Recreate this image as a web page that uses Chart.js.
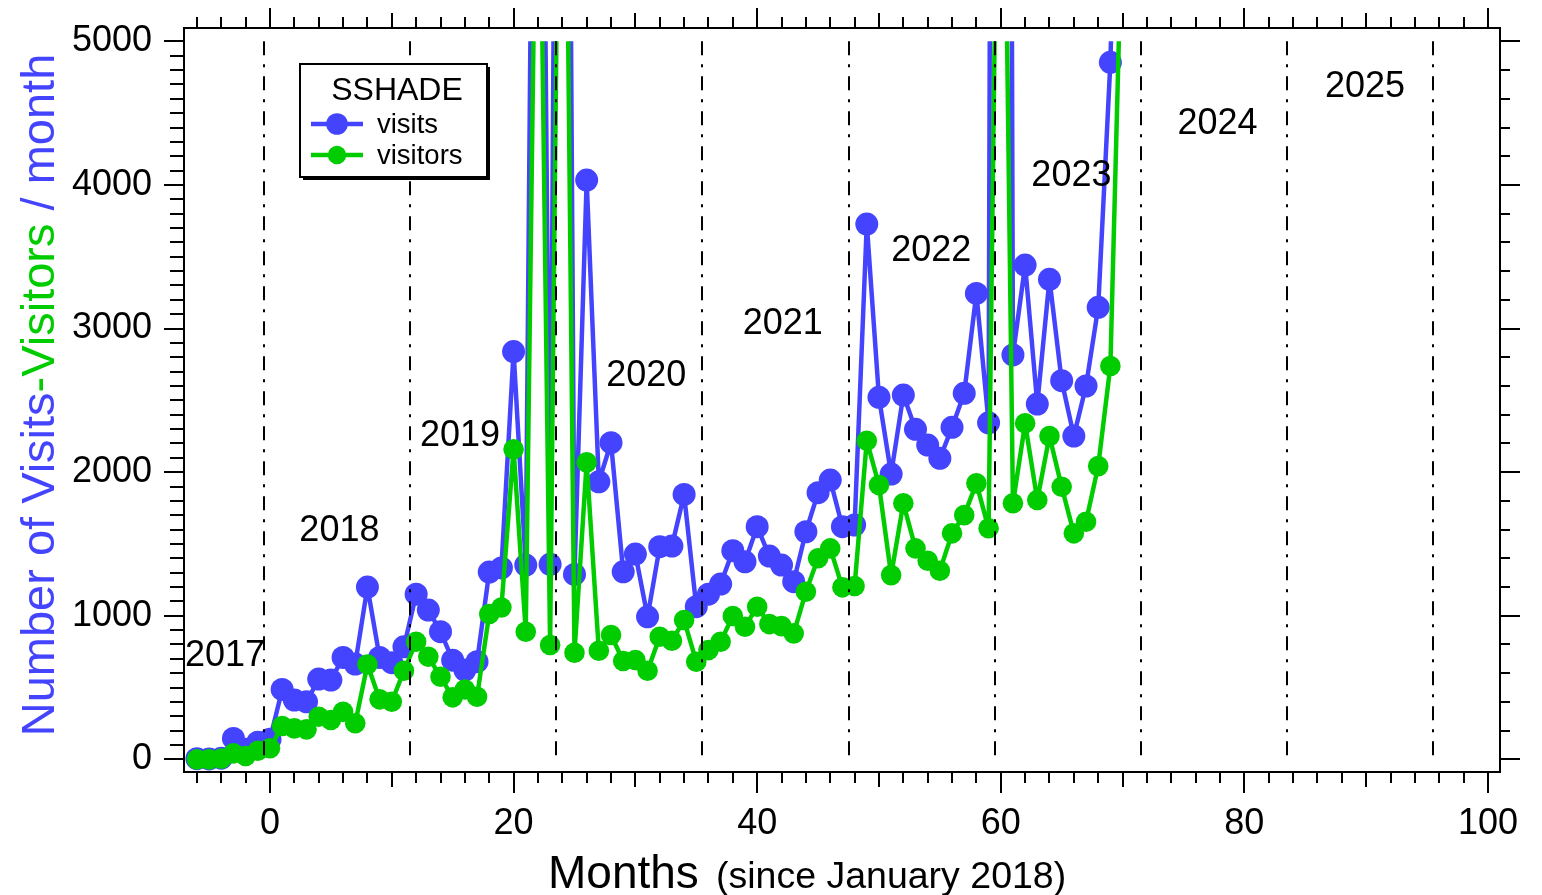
<!DOCTYPE html>
<html>
<head>
<meta charset="utf-8">
<script src="https://cdn.jsdelivr.net/npm/chart.js@4.4.1/dist/chart.umd.min.js"></script>
<style>
  html, body { margin: 0; padding: 0; background: #ffffff; }
  canvas { display: block; }
</style>
</head>
<body>
<canvas id="chart" width="1542" height="895"></canvas>
<script>
// Months counted from January 2018 (month 0)
const months = [
  -6, -5, -4, -3, -2, -1, 0, 1, 2, 3, 4, 5, 6, 7, 8, 9, 10, 11, 12, 13,
  14, 15, 16, 17, 18, 19, 20, 21, 22, 23, 24, 25, 26, 27, 28, 29, 30, 31, 32, 33,
  34, 35, 36, 37, 38, 39, 40, 41, 42, 43, 44, 45, 46, 47, 48, 49, 50, 51, 52, 53,
  54, 55, 56, 57, 58, 59, 60, 61, 62, 63, 64, 65, 66, 67, 68, 69, 70
];

// Monthly visits
const visits = [
  5, 3, 8, 146, 70, 120, 140, 487, 413, 401, 559, 552, 710, 664, 1200, 710, 673, 784, 1150, 1040,
  889, 691, 622, 680, 1304, 1333, 2840, 1353, 11000, 1358, 14500, 1288, 4034, 1933, 2205, 1306, 1430, 993, 1481, 1485,
  1845, 1063, 1150, 1221, 1453, 1376, 1620, 1416, 1353, 1237, 1585, 1857, 1945, 1620, 1632, 3728, 2521, 1987, 2537, 2298,
  2189, 2096, 2312, 2549, 3245, 2344, 30000, 2816, 3442, 2474, 3343, 2637, 2251, 2600, 3148, 4854, 8000
];

// Monthly distinct visitors
const visitors = [
  0, 0, 5, 42, 23, 60, 77, 232, 216, 209, 297, 274, 331, 251, 661, 418, 401, 617, 819, 715,
  575, 432, 487, 436, 1012, 1058, 2159, 889, 7400, 796, 9000, 742, 2068, 756, 866, 685, 692, 617, 854, 826,
  970, 680, 761, 819, 998, 924, 1063, 942, 928, 877, 1167, 1400, 1469, 1198, 1207, 2219, 1910, 1283, 1783, 1469,
  1383, 1313, 1574, 1701, 1922, 1609, 8500, 1783, 2340, 1806, 2251, 1898, 1574, 1655, 2042, 2739, 6000
];

// Axis tick labels
const xTickValues = [0, 20, 40, 60, 80, 100];
const yTickValues = [0, 1000, 2000, 3000, 4000, 5000];

// Calendar years and the month at which each one starts
const yearNames  = ['2017', '2018', '2019', '2020', '2021', '2022', '2023', '2024', '2025'];
const yearStarts = [-0.5, 11.5, 23.5, 35.5, 47.5, 59.5, 71.5, 83.5, 95.5];

// Where each year name is written (data coordinates: month, count)
const yearLabelAnchors = [
  { x: -3.7, y: 650 }, { x: 5.7, y: 1519 }, { x: 15.6, y: 2181 }, { x: 30.9, y: 2600 },
  { x: 42.1, y: 2962 }, { x: 54.3, y: 3470 }, { x: 65.8, y: 3992 }, { x: 77.8, y: 4355 },
  { x: 89.9, y: 4613 }
];

const BLUE = 'rgb(68,68,255)';
const GREEN = 'rgb(0,204,0)';
const FONT = '"Liberation Sans", Arial, Helvetica, sans-serif';
const Y_CLIP_TOP = 5000;

const toPoints = (xs, ys) => xs.map((x, i) => ({ x: x, y: ys[i] }));

// Keep the plot area fixed: no extra room for overhanging tick labels
const noOverhang = s => {
  s.paddingTop = 0; s.paddingBottom = 0; s.paddingLeft = 0; s.paddingRight = 0;
};

// Clip the traces at the top of the value range
const clipTop = {
  id: 'clipTop',
  beforeDatasetsDraw(chart) {
    const ctx = chart.ctx;
    const y = chart.scales.y;
    ctx.save();
    ctx.beginPath();
    ctx.rect(0, y.getPixelForValue(Y_CLIP_TOP), chart.width, chart.height);
    ctx.clip();
  },
  afterDatasetsDraw(chart) {
    chart.ctx.restore();
  }
};

// Frame, tick marks, year separators, annotations, titles and legend
const decorations = {
  id: 'decorations',
  afterDraw(chart) {
    const ctx = chart.ctx;
    const a = chart.chartArea;
    const xs = chart.scales.x;
    const ys = chart.scales.y;

    ctx.save();
    ctx.strokeStyle = '#000';
    ctx.lineWidth = 2;
    ctx.lineCap = 'butt';

    // frame
    ctx.strokeRect(a.left, a.top, a.right - a.left, a.bottom - a.top);

    // top / bottom tick marks
    ctx.beginPath();
    for (let m = -6; m <= 100; m += 2) {
      const px = Math.round(xs.getPixelForValue(m));
      const major = m % 20 === 0, mid = m % 10 === 0;
      const lb = major ? 21 : (mid ? 15 : 11);
      const lt = major ? 20 : (mid ? 15 : 11);
      ctx.moveTo(px, a.bottom); ctx.lineTo(px, a.bottom + lb);
      ctx.moveTo(px, a.top); ctx.lineTo(px, a.top - lt);
    }
    // left tick marks
    for (let v = 0; v <= 5000; v += 100) {
      const py = Math.round(ys.getPixelForValue(v));
      const len = v % 1000 === 0 ? 20 : 14;
      ctx.moveTo(a.left, py); ctx.lineTo(a.left - len, py);
    }
    // right tick marks
    for (let v = 0; v <= 5000; v += 200) {
      const py = Math.round(ys.getPixelForValue(v));
      const len = v % 1000 === 0 ? 20 : 10;
      ctx.moveTo(a.right, py); ctx.lineTo(a.right + len, py);
    }
    ctx.stroke();

    // year separators
    ctx.setLineDash([14, 9, 3, 9]);
    ctx.beginPath();
    yearStarts.forEach(m => {
      const px = Math.round(xs.getPixelForValue(m));
      ctx.moveTo(px, ys.getPixelForValue(5000));
      ctx.lineTo(px, ys.getPixelForValue(0));
    });
    ctx.stroke();
    ctx.setLineDash([]);

    // year names
    ctx.fillStyle = '#000';
    ctx.font = '36px ' + FONT;
    ctx.textAlign = 'center';
    ctx.textBaseline = 'alphabetic';
    yearNames.forEach((name, i) => {
      const p = yearLabelAnchors[i];
      ctx.fillText(name, xs.getPixelForValue(p.x), ys.getPixelForValue(p.y));
    });

    // x title
    ctx.textAlign = 'left';
    ctx.font = '46px ' + FONT;
    ctx.fillText('Months', 548, 888);
    ctx.font = '37.5px ' + FONT;
    ctx.fillText('(since January 2018)', 716, 888);

    // y title in two colours
    const parts = [
      { t: 'Number of Visits', c: BLUE },
      { t: '-Visitors', c: GREEN },
      { t: ' / month', c: BLUE }
    ];
    ctx.font = '47px ' + FONT;
    const total = parts.reduce((s, p) => s + ctx.measureText(p.t).width, 0);
    ctx.translate(54, 395);
    ctx.rotate(-Math.PI / 2);
    let off = -total / 2;
    parts.forEach(p => {
      ctx.fillStyle = p.c;
      ctx.fillText(p.t, off, 0);
      off += ctx.measureText(p.t).width;
    });
    ctx.setTransform(1, 0, 0, 1, 0, 0);

    // legend box with drop shadow
    const L = { x: 300, y: 64, w: 187, h: 113 };
    ctx.fillStyle = '#000';
    ctx.fillRect(L.x + 3, L.y + 3, L.w, L.h);
    ctx.fillStyle = '#fff';
    ctx.fillRect(L.x, L.y, L.w, L.h);
    ctx.lineWidth = 2;
    ctx.strokeRect(L.x, L.y, L.w, L.h);

    ctx.fillStyle = '#000';
    ctx.textAlign = 'center';
    ctx.font = '32px ' + FONT;
    ctx.fillText('SSHADE', 397, 100);

    const entries = [
      { label: chart.data.datasets[0].label, color: BLUE, r: 10.8, y: 124, base: 132.5 },
      { label: chart.data.datasets[1].label, color: GREEN, r: 9.2, y: 155, base: 164 }
    ];
    ctx.font = '27.5px ' + FONT;
    ctx.textAlign = 'left';
    entries.forEach(e => {
      ctx.strokeStyle = e.color;
      ctx.lineWidth = 4.5;
      ctx.beginPath();
      ctx.moveTo(311, e.y); ctx.lineTo(363, e.y);
      ctx.stroke();
      ctx.fillStyle = e.color;
      ctx.beginPath();
      ctx.arc(337, e.y, e.r, 0, Math.PI * 2);
      ctx.fill();
      ctx.fillStyle = '#000';
      ctx.fillText(e.label, 377, e.base);
    });

    ctx.restore();
  }
};

function build() {
  new Chart(document.getElementById('chart'), {
    type: 'line',
    data: {
      datasets: [
        {
          label: 'visits',
          data: toPoints(months, visits),
          borderColor: BLUE,
          backgroundColor: BLUE,
          borderWidth: 4.5,
          borderJoinStyle: 'round',
          pointRadius: 11.5,
          pointBorderWidth: 0,
          pointBackgroundColor: BLUE,
          tension: 0,
          order: 2
        },
        {
          label: 'visitors',
          data: toPoints(months, visitors),
          borderColor: GREEN,
          backgroundColor: GREEN,
          borderWidth: 4.5,
          borderJoinStyle: 'round',
          pointRadius: 10.3,
          pointBorderWidth: 0,
          pointBackgroundColor: GREEN,
          tension: 0,
          order: 1
        }
      ]
    },
    options: {
      responsive: false,
      animation: false,
      devicePixelRatio: 1,
      layout: { padding: { left: 0, right: 42, top: 28, bottom: 0 } },
      plugins: { legend: { display: false }, tooltip: { enabled: false } },
      scales: {
        x: {
          type: 'linear',
          min: -7.06,
          max: 100.99,
          grid: { display: false, drawTicks: false },
          border: { display: false },
          ticks: {
            color: '#000',
            font: { family: FONT, size: 36 },
            padding: 30,
            maxRotation: 0,
            autoSkip: false,
            callback: v => String(v)
          },
          afterBuildTicks: s => { s.ticks = xTickValues.map(v => ({ value: v })); },
          afterFit: s => { s.height = 123; noOverhang(s); }
        },
        y: {
          type: 'linear',
          min: -88,
          max: 5093,
          grid: { display: false, drawTicks: false },
          border: { display: false },
          ticks: {
            color: '#000',
            font: { family: FONT, size: 36 },
            padding: 32,
            autoSkip: false,
            callback: v => String(v)
          },
          afterBuildTicks: s => { s.ticks = yTickValues.map(v => ({ value: v })); },
          afterFit: s => { s.width = 184; noOverhang(s); }
        }
      }
    },
    plugins: [clipTop, decorations]
  });
}

if (document.fonts && document.fonts.load) {
  document.fonts.load('36px "Liberation Sans"').then(build, build);
} else {
  build();
}
</script>
</body>
</html>
